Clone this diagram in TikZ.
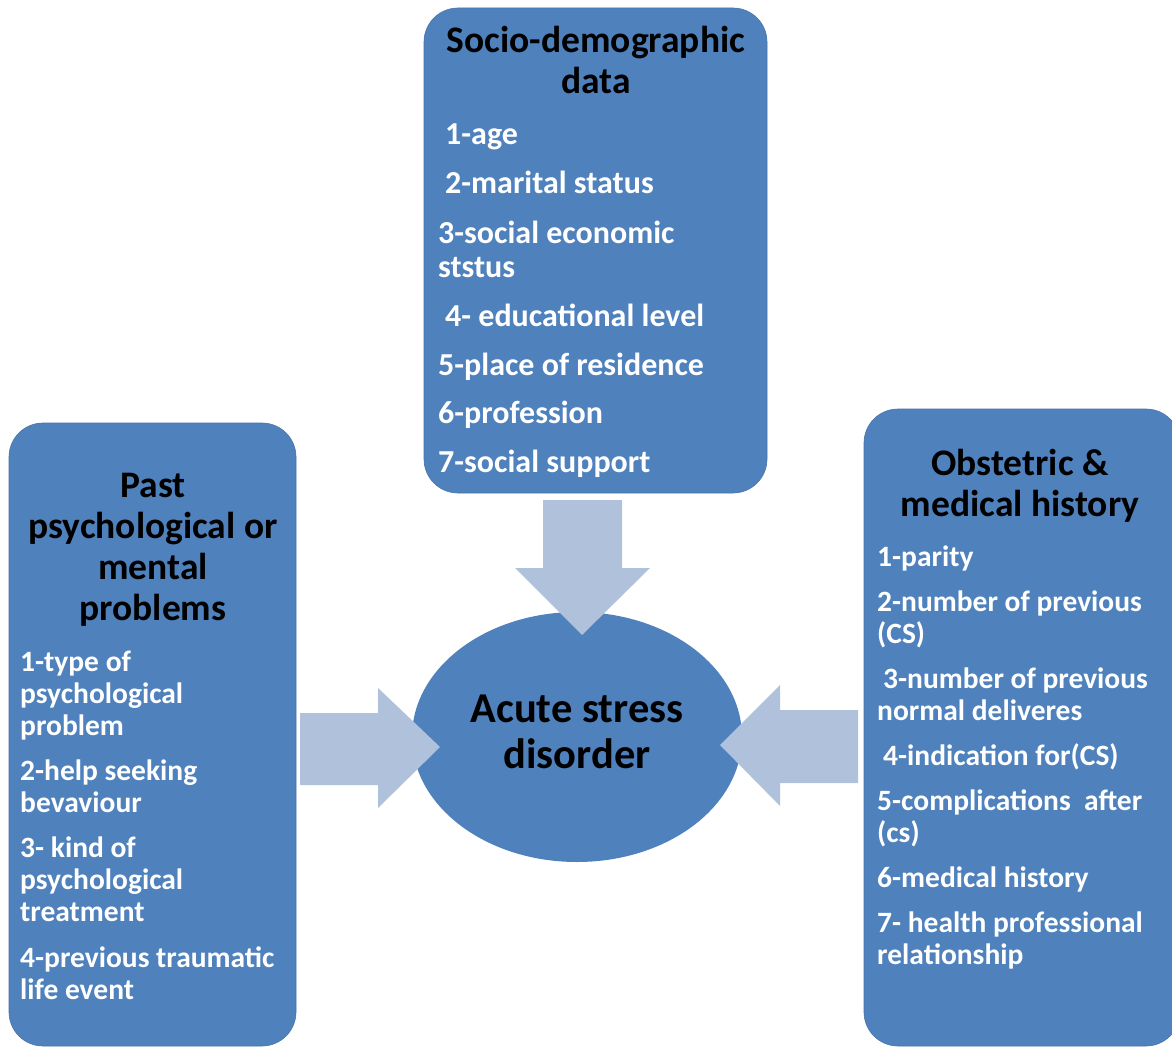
\documentclass[tikz,border=0pt]{standalone}
\usepackage{fontspec}
\setmainfont{Carlito}
\usetikzlibrary{shapes.geometric}
\definecolor{boxblue}{HTML}{4F81BD}
\definecolor{arrowblue}{HTML}{B0C1DC}
\tikzset{
  panel/.style={fill=boxblue, draw=boxblue!90!black, line width=0.6pt, rounded corners=34pt},
  ttl/.style={font=\fontsize{37.5}{41}\selectfont\bfseries, text=black, inner sep=0pt, align=center},
  itm/.style={font=\fontsize{32}{32}\selectfont\bfseries, text=white, inner sep=0pt, anchor=mid west},
  sitm/.style={itm, font=\fontsize{29.5}{32}\selectfont\bfseries}
}
\tikzset{blockarrow/.style={fill=arrowblue, draw=none}}
\begin{document}
\begin{tikzpicture}[x=1pt,y=-1pt]
\useasboundingbox[fill=white] (0,0) rectangle (1172,1048);
% panels
\path[panel] (424,8) rectangle (767,493);
\path[panel] (9,423) rectangle (296,1046);
\path[panel] (864,409) rectangle (1180,1046);
\node[draw=none,inner sep=0pt,minimum width=343pt,minimum height=485pt] (top) at (595.5,250.5) {};
\node[draw=none,inner sep=0pt,minimum width=287pt,minimum height=623pt] (left) at (152.5,734.5) {};
\node[draw=none,inner sep=0pt,minimum width=316pt,minimum height=637pt] (right) at (1022,727.5) {};
% center ellipse
\node[ellipse, fill=boxblue, draw=none, minimum width=330pt, minimum height=250pt, inner sep=0pt] (asd) at (577,737) {};
% block arrows
\path[blockarrow] (543,500) -- (622,500) -- (622,568) -- (650,568) -- (582,635) -- (515,568) -- (543,568) -- cycle;
\path[blockarrow] (300,713) -- (378,713) -- (378,688) -- (440,747) -- (378,808) -- (378,785) -- (300,785) -- cycle;
\path[blockarrow] (858,710) -- (780,710) -- (780,685) -- (720,745) -- (780,806) -- (780,783) -- (858,783) -- cycle;
% ellipse text
\node[ttl, font=\fontsize{42.5}{46}\selectfont\bfseries] (asdtxt) at (577,732) {Acute stress\\disorder};
% top panel
\node[ttl] (toptitle) at (596,60) {Socio-demographic\\data};
\node[itm] (t1) at (445,142) {1-age};
\node[itm] (t2) at (445,191) {2-marital status};
\node[itm] (t3a) at (438,241) {3-social economic};
\node[itm] (t3b) at (438,275) {ststus};
\node[itm] (t4) at (445,324) {4- educational level};
\node[itm] (t5) at (438,373) {5-place of residence};
\node[itm] (t6) at (438,421) {6-profession};
\node[itm] (t7) at (438,470) {7-social support};
% left panel
\node[ttl] (lefttitle) at (153,550) {Past\\psychological or\\mental\\problems};
\node[sitm] (l1a) at (20,669) {1-type of};
\node[sitm] (l1b) at (20,701) {psychological};
\node[sitm] (l1c) at (20,733) {problem};
\node[sitm] (l2a) at (20,778) {2-help seeking};
\node[sitm] (l2b) at (20,810) {bevaviour};
\node[sitm] (l3a) at (20,855) {3- kind of};
\node[sitm] (l3b) at (20,887) {psychological};
\node[sitm] (l3c) at (20,919) {treatment};
\node[sitm] (l4a) at (20,965) {4-previous traumatic};
\node[sitm] (l4b) at (20,997) {life event};
% right panel
\node[ttl] (righttitle) at (1020,486) {Obstetric \&\\medical history};
\node[sitm] (r1) at (877,564) {1-parity};
\node[sitm] (r2a) at (877,609) {2-number of previous};
\node[sitm] (r2b) at (877,641) {(CS)};
\node[sitm] (r3a) at (883,686) {3-number of previous};
\node[sitm] (r3b) at (877,718) {normal deliveres};
\node[sitm] (r4) at (883,763) {4-indication for(CS)};
\node[sitm] (r5a) at (877,808) {5-complications\ \ after};
\node[sitm] (r5b) at (877,840) {(cs)};
\node[sitm] (r6) at (877,885) {6-medical history};
\node[sitm] (r7a) at (877,930) {7- health professional};
\node[sitm] (r7b) at (877,962) {relationship};
\end{tikzpicture}
\end{document}
